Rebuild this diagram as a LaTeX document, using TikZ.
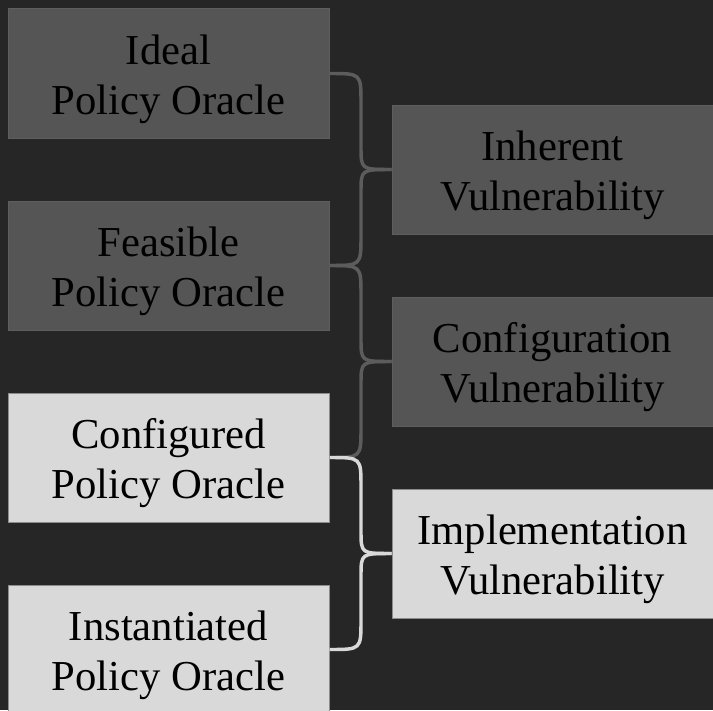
\documentclass[tikz,border=0pt]{standalone}
\usepackage{fontspec}
\setmainfont{Liberation Serif}
\usetikzlibrary{calc}
\definecolor{bgc}{HTML}{262626}
\definecolor{darkbox}{HTML}{555555}
\definecolor{darkedge}{HTML}{5E5E5E}
\definecolor{lightbox}{HTML}{D9D9D9}
\definecolor{lightedge}{HTML}{8C8C8C}
\definecolor{darkbrace}{HTML}{5C5C5C}
\tikzset{
  box/.style={rectangle, minimum width=240.75pt, minimum height=96.75pt, inner sep=0pt,
    align=center, text=black, font=\fontsize{32}{37.5}\selectfont, line width=0.75pt,
    text height=62pt, text depth=0pt},
  darkb/.style={box, fill=darkbox, draw=darkedge},
  lightb/.style={box, fill=lightbox, draw=lightedge},
  bracel/.style={line width=2.6pt},
}
\newcommand\mybrace[5]{%
  \draw[bracel,#5] (#1.east) .. controls (#1.east -| #4) .. ($(#1.east -| #4)+(0,-22pt)$)
    -- ($(#2.west -| #4)+(0,17pt)$) .. controls (#2.west -| #4) .. (#2.west);
  \draw[bracel,#5] (#2.west) .. controls (#2.west -| #4) .. ($(#2.west -| #4)+(0,-17pt)$)
    -- ($(#3.east -| #4)+(0,22pt)$) .. controls (#3.east -| #4) .. (#3.east);
}
\begin{document}
\begin{tikzpicture}[x=0.75pt,y=-0.75pt]
\fill[bgc] (0,0) rectangle (713,710);
\useasboundingbox (0,0) rectangle (713,710);
\node[darkb] (ideal) at (168.5,73.5) {Ideal\\Policy Oracle};
\node[darkb] (feas) at (168.5,265.5) {Feasible\\Policy Oracle};
\node[lightb] (conf) at (168.5,457.5) {Configured\\Policy Oracle};
\node[lightb] (inst) at (168.5,649.5) {Instantiated\\Policy Oracle};
\node[darkb] (inh) at (552.5,169.5) {Inherent\\Vulnerability};
\node[darkb] (cfgv) at (552.5,361.5) {Configuration\\Vulnerability};
\node[lightb] (impl) at (552.5,553.5) {Implementation\\Vulnerability};
\coordinate (m) at (361,0);
\mybrace{ideal}{inh}{feas}{m}{darkbrace}
\mybrace{feas}{cfgv}{conf}{m}{darkbrace}
\mybrace{conf}{impl}{inst}{m}{lightbox}
\end{tikzpicture}
\end{document}
